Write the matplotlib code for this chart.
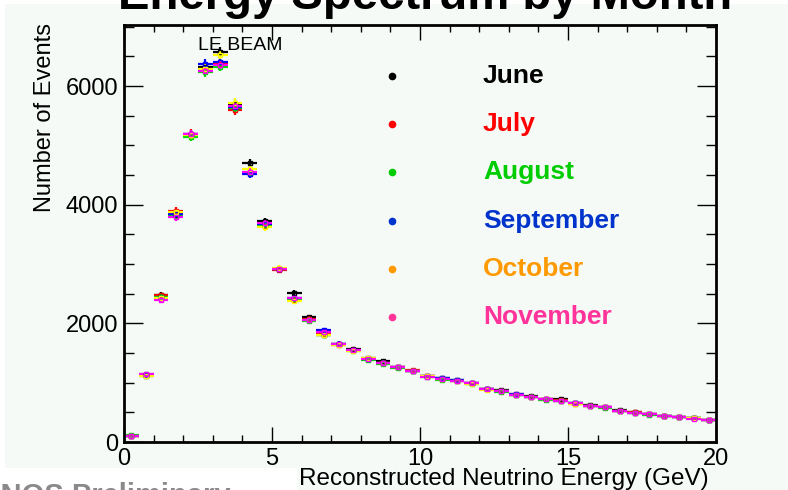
import numpy as np
import matplotlib.pyplot as plt
from matplotlib.patches import Rectangle
from matplotlib.lines import Line2D
from matplotlib.ticker import MultipleLocator

plt.rcParams['font.family'] = ['Liberation Sans', 'DejaVu Sans']

# bin centres (0.5 GeV bins)
energia = np.arange(0.25, 20.0, 0.5)

junio = [105, 1120, 2480, 3830, 5170, 6330, 6580, 5700, 4700, 3720, 2920, 2520, 2100, 1810,
         1660, 1560, 1410, 1370, 1270, 1200, 1120, 1080, 1040, 1000, 900, 870, 800, 770, 730,
         725, 650, 625, 585, 535, 500, 470, 445, 420, 400, 375]
julio = [95, 1130, 2470, 3900, 5200, 6280, 6370, 5590, 4530, 3640, 2900, 2400, 2080, 1820,
         1640, 1550, 1400, 1340, 1260, 1210, 1110, 1070, 1030, 990, 895, 860, 805, 765, 720,
         700, 645, 600, 590, 530, 500, 465, 440, 420, 400, 370]
agosto = [110, 1140, 2440, 3810, 5150, 6230, 6330, 5630, 4540, 3660, 2910, 2410, 2040, 1810,
          1650, 1540, 1390, 1320, 1250, 1190, 1090, 1050, 1020, 970, 890, 850, 800, 760, 715,
          685, 650, 605, 580, 525, 495, 460, 440, 415, 400, 370]
septiembre = [100, 1130, 2420, 3840, 5190, 6380, 6400, 5650, 4520, 3680, 2910, 2430, 2060, 1880,
              1660, 1550, 1400, 1340, 1260, 1200, 1120, 1080, 1040, 1000, 890, 860, 810, 760, 725,
              690, 655, 610, 585, 530, 495, 470, 440, 420, 400, 370]
octubre = [100, 1110, 2430, 3870, 5170, 6290, 6530, 5720, 4600, 3620, 2930, 2380, 2050, 1800,
           1640, 1540, 1410, 1330, 1260, 1200, 1110, 1060, 1030, 980, 885, 860, 795, 760, 720,
           690, 645, 600, 585, 530, 490, 470, 445, 415, 400, 375]
noviembre = [100, 1140, 2400, 3790, 5190, 6260, 6350, 5660, 4560, 3700, 2910, 2420, 2060, 1850,
             1650, 1550, 1400, 1330, 1260, 1190, 1100, 1070, 1030, 990, 890, 855, 800, 765, 725,
             685, 650, 605, 585, 530, 495, 465, 445, 415, 395, 370]

meses = ["June", "July", "August", "September", "October", "November"]
series = [junio, julio, agosto, septiembre, octubre, noviembre]
colores_datos = ["black", "#ff0000", "#00dd00", "#0000ff", "#ffff00", "#ff00ff"]
colores_leyenda = ["black", "#ff0000", "#00cc00", "#0033cc", "#ff9900", "#ff3399"]

fondo = "#f5faf7"
W, H = 788, 490


def fx(px):
    return px / W


def fy(py):
    return 1 - py / H


fig = plt.figure(figsize=(W / 100, H / 100), dpi=100, facecolor=fondo)
ax = fig.add_axes([fx(124), fy(442), fx(716) - fx(124), fy(25) - fy(442)])
ax.set_facecolor(fondo)

for valores, color in zip(series, colores_datos):
    valores = np.array(valores, dtype=float)
    ax.errorbar(energia, valores, xerr=0.25, yerr=np.sqrt(valores), fmt='s', ms=3.5,
                mfc='none', mec=color, mew=1.0, color=color, elinewidth=1.6, capsize=0)

ax.set_xlim(0, 20)
ax.set_ylim(0, 7030)
ax.xaxis.set_major_locator(MultipleLocator(5))
ax.xaxis.set_minor_locator(MultipleLocator(1))
ax.yaxis.set_major_locator(MultipleLocator(2000))
ax.yaxis.set_minor_locator(MultipleLocator(500))
ax.tick_params(which='both', direction='in', top=True, right=True, width=1.0,
               labelsize=17, colors='black')
ax.tick_params(axis='x', which='major', length=11, pad=4)
ax.tick_params(axis='x', which='minor', length=5)
ax.tick_params(axis='y', which='major', length=14, pad=4)
ax.tick_params(axis='y', which='minor', length=7)
for lado in ax.spines.values():
    lado.set_linewidth(2)

fig.text(fx(198), fy(50), "LE BEAM", fontsize=14, va='baseline', ha='left')

# leyenda manual
for i, (mes, color) in enumerate(zip(meses, colores_leyenda)):
    y = 76 + 48.2 * i
    fig.add_artist(Line2D([fx(392)], [fy(y)], marker='o', ms=4.5, color=color,
                          linestyle='none', transform=fig.transFigure))
    fig.text(fx(483), fy(y), mes, color=color, fontsize=19, fontweight='bold',
             ha='left', va='center')

fig.text(fx(45), fy(23), "Number of Events", rotation=90, fontsize=17,
         ha='center', va='top')
fig.text(fx(709), fy(479), "Reconstructed Neutrino Energy (GeV)", fontsize=17.5,
         ha='right', va='center', zorder=1)

# franjas blancas de la diapositiva
for x0, y0, x1, y1 in [(0, 0, 5, 490), (0, 0, 788, 4), (0, 468, 297, 490)]:
    fig.patches.append(Rectangle((fx(x0), fy(y1)), fx(x1) - fx(x0), fy(y0) - fy(y1),
                                 transform=fig.transFigure, facecolor='white',
                                 edgecolor='none', zorder=5))

fig.text(fx(425), fy(9), "Energy Spectrum by Month", fontsize=34, fontweight='bold',
         ha='center', va='baseline', zorder=6)
fig.text(fx(-32), fy(504), "MINOS Preliminary", fontsize=21, fontweight='bold',
         color='#8a8a8a', ha='left', va='baseline', zorder=6)

fig.savefig("out.png", dpi=100, facecolor=fondo)
